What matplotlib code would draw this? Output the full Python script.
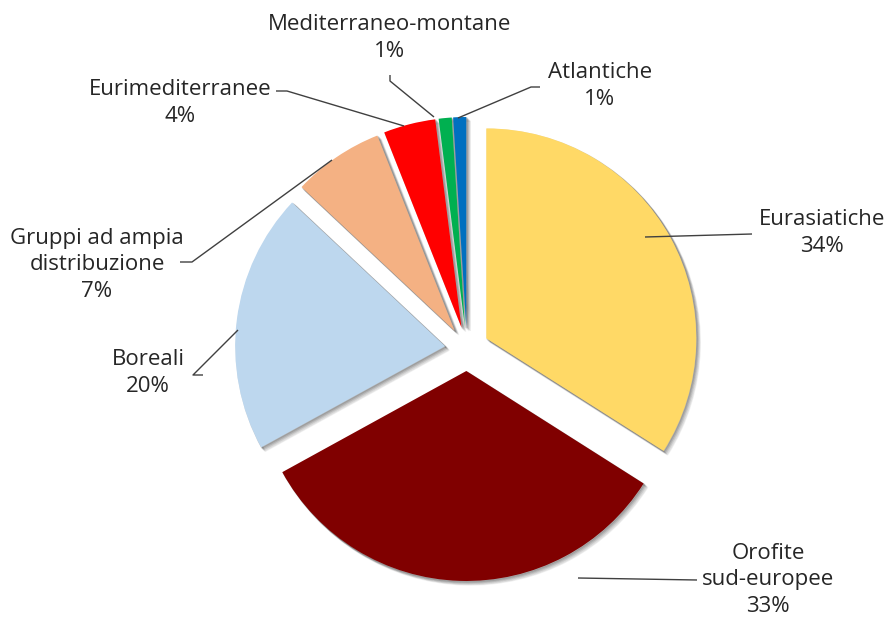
import matplotlib
matplotlib.use("Agg")
import matplotlib.pyplot as plt

categories = ["Eurasiatiche", "Orofite\nsud-europee", "Boreali",
              "Gruppi ad ampia\ndistribuzione", "Eurimediterranee",
              "Mediterraneo-montane", "Atlantiche"]
values = [34, 33, 20, 7, 4, 1, 1]
colors = ["#FFD966", "#800000", "#BDD7EE", "#F4B183", "#FF0000", "#00B050", "#0070C0"]

W, H = 891, 621
fig = plt.figure(figsize=(W / 100, H / 100), dpi=100)
ax = fig.add_axes([0, 0, 1, 1])

cx, cy, R = 467, 272, 210
explode = [22] * len(values)

# soft shadow
for dx, dy, a in [(4, -4, 0.06), (3, -3, 0.08), (2, -2, 0.10), (1, -1, 0.12)]:
    ax.pie(values, colors=["#000000"] * len(values), startangle=90, counterclock=False,
           explode=explode, radius=R, center=(cx + dx, cy + dy),
           wedgeprops=dict(linewidth=1.0, edgecolor="#000000", alpha=a), frame=True)
ax.pie(values, colors=colors, startangle=90, counterclock=False,
       explode=explode, radius=R, center=(cx, cy),
       wedgeprops=dict(linewidth=0), frame=True)
ax.set_xlim(0, W)
ax.set_ylim(0, H)
ax.set_aspect("equal")
ax.axis("off")

# label layout (pixel coords, y from top)
label_pos = [(822, 233), (768, 580), (148, 373), (97, 265), (180, 103), (390, 38), (600, 86)]
leaders = [
    [(645, 237), (752, 234)],
    [(578, 578), (697, 580)],
    [(238, 330), (193, 375), (203, 375)],
    [(180, 262), (192, 262), (332, 160)],
    [(276, 91), (287, 91), (404, 126)],
    [(390, 75), (390, 81), (434, 117)],
    [(540, 87), (531, 87), (458, 118)],
]

for cat, v, (lx, ly) in zip(categories, values, label_pos):
    ax.text(lx, H - ly, f"{cat}\n{v}%", ha="center", va="center", fontsize=16,
            family="Open Sans", color="#262626", linespacing=1.35)

for pts in leaders:
    xs = [p[0] for p in pts]
    ys = [H - p[1] for p in pts]
    ax.plot(xs, ys, color="#404040", lw=1.0, solid_capstyle="butt")

fig.savefig("out.png", dpi=100)
